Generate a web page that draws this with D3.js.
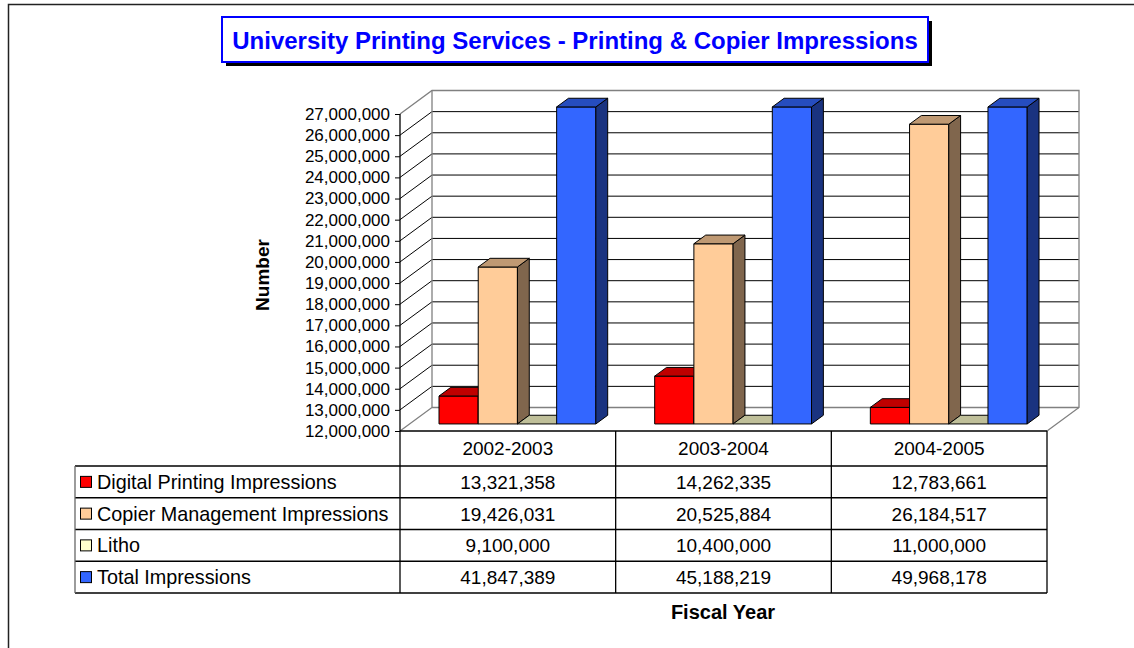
<!DOCTYPE html>
<html>
<head>
<meta charset="utf-8">
<script src="https://cdn.jsdelivr.net/npm/d3@7"></script>
<style>
  body { margin: 0; background: #fff; }
  svg { display: block; font-family: "Liberation Sans", Arial, sans-serif; }
</style>
</head>
<body>
<svg width="1134" height="648"></svg>
<script>
var years = ["2002-2003", "2003-2004", "2004-2005"];
var seriesNames = ["Digital Printing Impressions", "Copier Management Impressions", "Litho", "Total Impressions"];
var digital = [13321358, 14262335, 12783661];
var copier = [19426031, 20525884, 26184517];
var litho = [9100000, 10400000, 11000000];
var total = [41847389, 45188219, 49968178];
var yTicks = d3.range(12000000, 27000001, 1000000);

var seriesValues = [digital, copier, litho, total];
var seriesColors = ["#FF0000", "#FFCC99", "#FFFFCC", "#3366FF"];

var svg = d3.select("svg");

// 3d depth of the plot box
var DX = 32, DY = -23.5;
var BAR_F0 = 0.3, BAR_F1 = 0.67;
var GRID = "#808080";

var x = d3.scaleBand().domain(years).range([400, 1047]);
var xs = d3.scaleBand().domain(seriesNames).range([0, x.bandwidth()]).paddingOuter(0.75);
var y = d3.scaleLinear().domain([12000000, 27000000]).range([431, 114]).clamp(true);
var fmt = d3.format(",");

function shade(c, k) {
    var r = d3.rgb(c);
    return d3.rgb(r.r * k, r.g * k, r.b * k).formatHex();
}

// outer frame
svg.append("path")
    .attr("d", "M8.5,648V4.5H1134")
    .attr("fill", "none").attr("stroke", "#222").attr("stroke-width", 1.5);

// title
svg.append("rect").attr("x", 226).attr("y", 21).attr("width", 706).attr("height", 45).attr("fill", "#000");
svg.append("rect").attr("x", 222).attr("y", 17).attr("width", 706).attr("height", 45)
    .attr("fill", "#fff").attr("stroke", "#0000FF").attr("stroke-width", 2);
svg.append("text").attr("x", 575).attr("y", 48.5).attr("text-anchor", "middle")
    .attr("fill", "#0000FF").attr("font-weight", "bold").attr("font-size", 24)
    .text("University Printing Services - Printing & Copier Impressions");

// walls
var x0 = x.range()[0], x1 = x.range()[1];
var yb = y(12000000), yt = y(27000000);
var walls = svg.append("g").attr("fill", "none");

walls.selectAll("line.back")
    .data(yTicks.slice(1, -1))
    .enter().append("line")
    .attr("x1", x0 + DX).attr("x2", x1 + DX)
    .attr("y1", function (d) { return y(d) + DY; })
    .attr("y2", function (d) { return y(d) + DY; })
    .attr("stroke", "#000").attr("stroke-width", 1);

walls.selectAll("line.side")
    .data(yTicks.slice(1, -1))
    .enter().append("line")
    .attr("x1", x0).attr("x2", x0 + DX)
    .attr("y1", function (d) { return y(d); })
    .attr("y2", function (d) { return y(d) + DY; })
    .attr("stroke", "#000").attr("stroke-width", 1);

walls.append("path")
    .attr("d", "M" + x0 + "," + yt + "L" + (x0 + DX) + "," + (yt + DY) +
        "H" + (x1 + DX) + "V" + (yb + DY) + "L" + x1 + "," + yb)
    .attr("stroke", GRID).attr("stroke-width", 1.3);
walls.append("path")
    .attr("d", "M" + x0 + "," + yb + "L" + (x0 + DX) + "," + (yb + DY) +
        "V" + (yt + DY) + "M" + (x0 + DX) + "," + (yb + DY) + "H" + (x1 + DX))
    .attr("stroke", GRID).attr("stroke-width", 1.3);

// y axis
var yAxis = svg.append("g")
    .attr("transform", "translate(" + x0 + ",0)")
    .call(d3.axisLeft(y).tickValues(yTicks).tickFormat(fmt).tickSize(5).tickPadding(5));
yAxis.select(".domain").remove();
yAxis.append("line").attr("x1", 0).attr("x2", 0).attr("y1", yt).attr("y2", yb)
    .attr("stroke", "#000").attr("stroke-width", 1.3);
yAxis.selectAll("text").attr("font-size", 17).attr("font-family", null).attr("fill", "#000");
yAxis.selectAll(".tick line").attr("stroke", "#000");

svg.append("text")
    .attr("transform", "translate(269,275) rotate(-90)")
    .attr("text-anchor", "middle").attr("font-weight", "bold").attr("font-size", 19)
    .text("Number");

// bars
var bars = svg.append("g").attr("stroke", "#000").attr("stroke-width", 1).attr("stroke-linejoin", "round");
years.forEach(function (yr, i) {
    seriesNames.forEach(function (s, j) {
        var v = seriesValues[j][i];
        var w = xs.bandwidth();
        var fx = x(yr) + xs(s) + BAR_F0 * DX;
        var fb = y(12000000) + BAR_F0 * DY;
        var ft = y(v) + BAR_F0 * DY;
        var ddx = (BAR_F1 - BAR_F0) * DX, ddy = (BAR_F1 - BAR_F0) * DY;
        var c = seriesColors[j];
        var g = bars.append("g");
        if (ft < fb) {
            g.append("rect").attr("x", fx).attr("y", ft).attr("width", w).attr("height", fb - ft).attr("fill", c);
            g.append("path")
                .attr("d", "M" + (fx + w) + "," + fb + "V" + ft + "l" + ddx + "," + ddy + "V" + (fb + ddy) + "Z")
                .attr("fill", shade(c, 0.5));
        }
        g.append("path")
            .attr("d", "M" + fx + "," + ft + "h" + w + "l" + ddx + "," + ddy + "h" + (-w) + "Z")
            .attr("fill", shade(c, 0.75));
    });
});

// data table
var rowTop = 466, rowH = 31.75, labelX = 75;
var table = svg.append("g");
table.selectAll("text.year")
    .data(years)
    .enter().append("text")
    .attr("x", function (d) { return x(d) + x.bandwidth() / 2; })
    .attr("y", 455)
    .attr("text-anchor", "middle").attr("font-size", 19)
    .text(function (d) { return d; });

seriesNames.forEach(function (s, j) {
    var ry = rowTop + j * rowH;
    table.append("rect").attr("x", 80.5).attr("y", ry + rowH / 2 - 5.5).attr("width", 11).attr("height", 11)
        .attr("fill", seriesColors[j]).attr("stroke", "#000").attr("stroke-width", 1);
    table.append("text").attr("x", 97).attr("y", ry + rowH / 2 + 7).attr("font-size", 19.8).text(s);
    table.selectAll(null)
        .data(seriesValues[j])
        .enter().append("text")
        .attr("x", function (d, i) { return x(years[i]) + x.bandwidth() / 2; })
        .attr("y", ry + rowH / 2 + 7)
        .attr("text-anchor", "middle").attr("font-size", 19)
        .text(function (d) { return fmt(d); });
});

var tb = rowTop + seriesNames.length * rowH;
var lines = table.append("g").attr("stroke", "#000").attr("stroke-width", 1.3);
lines.append("line").attr("x1", x0).attr("x2", x1).attr("y1", yb).attr("y2", yb).attr("stroke-width", 1.6);
d3.range(seriesNames.length + 1).forEach(function (k) {
    lines.append("line").attr("x1", labelX).attr("x2", x1)
        .attr("y1", rowTop + k * rowH).attr("y2", rowTop + k * rowH);
});
lines.append("line").attr("x1", labelX).attr("x2", labelX).attr("y1", rowTop).attr("y2", tb).attr("stroke", "#666");
x.domain().concat([null]).forEach(function (d) {
    var xx = d === null ? x1 : x(d);
    lines.append("line").attr("x1", xx).attr("x2", xx).attr("y1", yb).attr("y2", tb);
});

svg.append("text").attr("x", 723).attr("y", 619).attr("text-anchor", "middle")
    .attr("font-weight", "bold").attr("font-size", 20).text("Fiscal Year");
</script>
</body>
</html>
